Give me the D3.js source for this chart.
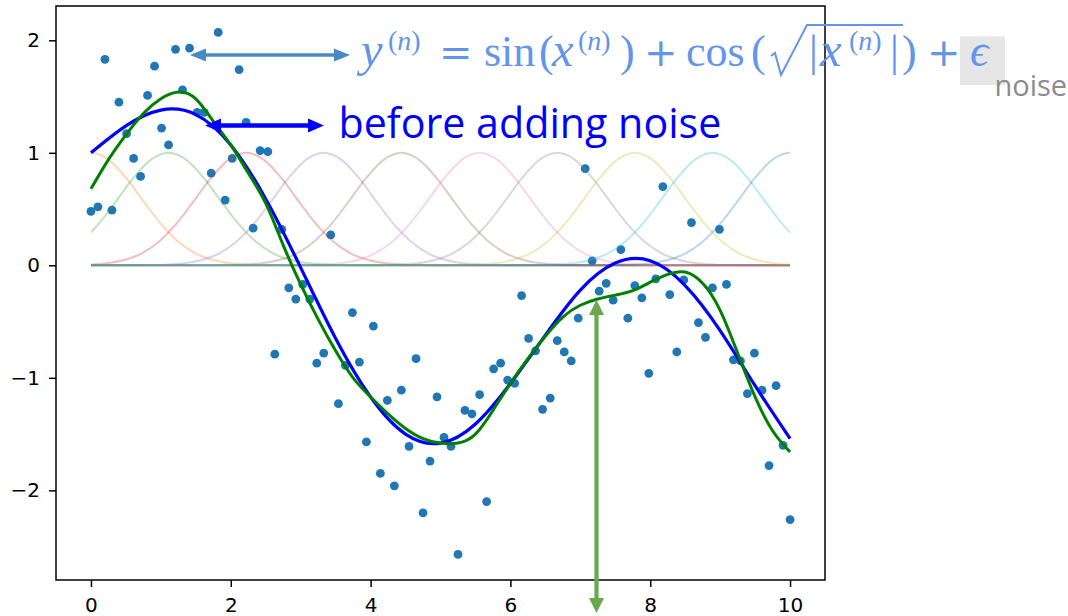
<!DOCTYPE html>
<html>
<head>
<meta charset="utf-8">
<script src="https://cdn.jsdelivr.net/npm/d3@7"></script>
<style>
  body { margin: 0; background: #fff; }
  .axis text { font-family: "DejaVu Sans", sans-serif; font-size: 20px; fill: #000; }
  .axis line { stroke: #000; stroke-width: 1.5; }
  .axis .domain { display: none; }
</style>
</head>
<body>
<script>
// noisy samples
var sampleX = [0.00,0.10,0.20,0.30,0.40,0.51,0.61,0.71,0.81,0.91,
  1.01,1.11,1.21,1.31,1.41,1.52,1.62,1.72,1.82,1.92,
  2.02,2.12,2.22,2.32,2.42,2.53,2.63,2.73,2.83,2.93,
  3.03,3.13,3.23,3.33,3.43,3.54,3.64,3.74,3.84,3.94,
  4.04,4.14,4.24,4.34,4.44,4.55,4.65,4.75,4.85,4.95,
  5.05,5.15,5.25,5.35,5.45,5.56,5.66,5.76,5.86,5.96,
  6.06,6.16,6.26,6.36,6.46,6.57,6.67,6.77,6.87,6.97,
  7.07,7.17,7.27,7.37,7.47,7.58,7.68,7.78,7.88,7.98,
  8.08,8.18,8.28,8.38,8.48,8.59,8.69,8.79,8.89,8.99,
  9.09,9.19,9.29,9.39,9.49,9.60,9.70,9.80,9.90,10.00];
var sampleY = [0.48,0.52,1.83,0.49,1.45,1.17,0.95,0.79,1.51,1.77,
  1.22,1.07,1.92,1.56,1.93,1.36,1.36,0.82,2.07,0.58,
  0.95,1.74,1.27,0.33,1.02,1.01,-0.79,0.32,-0.20,-0.30,
  -0.17,-0.30,-0.87,-0.78,0.27,-1.23,-0.89,-0.42,-0.86,-1.57,
  -0.54,-1.85,-1.20,-1.96,-1.11,-1.61,-0.83,-2.20,-1.74,-1.17,
  -1.53,-1.61,-2.57,-1.29,-1.32,-1.15,-2.10,-0.92,-0.87,-1.02,
  -1.05,-0.27,-0.65,-0.76,-1.28,-1.18,-0.67,-0.77,-0.85,-0.47,
  0.86,0.04,-0.23,-0.16,-0.31,0.14,-0.47,-0.18,-0.29,-0.96,
  -0.12,0.70,-0.26,-0.77,-0.13,0.38,-0.51,-0.64,-0.20,0.32,
  -0.17,-0.84,-0.85,-1.14,-0.78,-1.11,-1.78,-1.07,-1.60,-2.26];

// curve before adding noise
var trueX = [0,0.5,1,1.5,2,2.5,3,3.5,4,4.5,5,5.5,6,6.5,7,7.5,8,8.5,9,9.5,10];
var trueY = [1.00,1.24,1.38,1.34,1.07,0.59,-0.02,-0.65,-1.17,-1.50,-1.58,-1.41,-1.05,-0.62,-0.22,0.02,0.04,-0.18,-0.58,-1.07,-1.54];

// fitted curve
var fitX = [0,0.25,0.5,0.75,1,1.25,1.5,1.75,2,2.25,2.5,2.75,3,3.25,3.5,3.75,4,4.25,4.5,4.75,
  5,5.25,5.5,5.75,6,6.25,6.5,6.75,7,7.25,7.5,7.75,8,8.25,8.5,8.75,9,9.25,9.5,9.75,10];
var fitY = [0.68,0.94,1.16,1.35,1.48,1.54,1.48,1.28,1.07,0.82,0.55,0.18,-0.17,-0.48,-0.76,-1.00,-1.17,-1.32,-1.45,-1.54,
  -1.58,-1.58,-1.50,-1.29,-1.05,-0.83,-0.63,-0.46,-0.355,-0.30,-0.265,-0.225,-0.15,-0.08,-0.06,-0.16,-0.40,-0.78,-1.17,-1.47,-1.66];

// basis bumps: centres and one bump profile
var bumpCenters = [0,1.11,2.22,3.33,4.44,5.56,6.67,7.78,8.89,10];
var bumpOffsets = [-11,-3,-2.75,-2.5,-2.25,-2,-1.75,-1.5,-1.25,-1,-0.75,-0.5,-0.25,0,
  0.25,0.5,0.75,1,1.25,1.5,1.75,2,2.25,2.5,2.75,3,11];
var bumpValues = [0,0,0.0005,0.002,0.006,0.018,0.047,0.105,0.21,0.368,0.57,0.779,0.939,1,
  0.939,0.779,0.57,0.368,0.21,0.105,0.047,0.018,0.006,0.002,0.0005,0,0];

var xTicks = [0,2,4,6,8,10];
var yTicks = [-2,-1,0,1,2];

var bumpColors = ["#ff7f0e","#2ca02c","#d62728","#9467bd","#8c564b","#e377c2","#7f7f7f","#bcbd22","#17becf","#1f77b4"];

var margin = {top: 6, right: 243, bottom: 36, left: 56},
    W = 1068, H = 616;

var svg = d3.select("body").append("svg")
    .attr("width", W)
    .attr("height", H);

var x = d3.scaleLinear().domain([-0.5, 10.5]).range([margin.left, W - margin.right]);
var y = d3.scaleLinear().domain([-2.797, 2.305]).range([H - margin.bottom, margin.top]);

svg.append("clipPath").attr("id", "xclip")
  .append("rect")
    .attr("x", x(0)).attr("y", 0)
    .attr("width", x(10) - x(0)).attr("height", H);

// scatter
svg.append("g")
  .selectAll("circle")
  .data(sampleX)
  .enter().append("circle")
    .attr("cx", function(d) { return x(d); })
    .attr("cy", function(d, i) { return y(sampleY[i]); })
    .attr("r", 4.4)
    .attr("fill", "#1f77b4");

// bumps
var bumpLine = d3.line()
    .curve(d3.curveMonotoneX)
    .x(function(d) { return x(d[0]); })
    .y(function(d) { return y(d[1]); });

svg.append("g")
    .attr("clip-path", "url(#xclip)")
  .selectAll("path")
  .data(bumpCenters)
  .enter().append("path")
    .attr("fill", "none")
    .attr("stroke", function(d, i) { return bumpColors[i]; })
    .attr("stroke-opacity", 0.3)
    .attr("stroke-width", 2)
    .attr("d", function(c) {
      return bumpLine(bumpOffsets.map(function(o, k) { return [c + o, bumpValues[k]]; }));
    });

var curve = d3.line()
    .curve(d3.curveNatural)
    .x(function(d) { return x(d[0]); })
    .y(function(d) { return y(d[1]); });

svg.append("path")
    .datum(d3.zip(trueX, trueY))
    .attr("fill", "none")
    .attr("stroke", "#0000ff")
    .attr("stroke-width", 3.2)
    .attr("d", curve);

svg.append("path")
    .datum(d3.zip(fitX, fitY))
    .attr("fill", "none")
    .attr("stroke", "#008000")
    .attr("stroke-width", 3)
    .attr("d", curve);

// frame
svg.append("rect")
    .attr("x", margin.left).attr("y", margin.top)
    .attr("width", W - margin.right - margin.left)
    .attr("height", H - margin.bottom - margin.top)
    .attr("fill", "none")
    .attr("stroke", "#000")
    .attr("stroke-width", 1.5);

svg.append("g")
    .attr("class", "axis")
    .attr("transform", "translate(0," + (H - margin.bottom) + ")")
    .call(d3.axisBottom(x).tickValues(xTicks).tickFormat(d3.format("d")).tickSize(7).tickPadding(11));

svg.append("g")
    .attr("class", "axis")
    .attr("transform", "translate(" + margin.left + ",0)")
    .call(d3.axisLeft(y).tickValues(yTicks).tickFormat(d3.format("d")).tickSize(7).tickPadding(9));

// arrows
function arrow(x1, y1, x2, y2, color, width, headLen, headW) {
  var dx = x2 - x1, dy = y2 - y1, len = Math.sqrt(dx * dx + dy * dy);
  var ux = dx / len, uy = dy / len;
  svg.append("line")
      .attr("x1", x1 + ux * headLen * 0.8).attr("y1", y1 + uy * headLen * 0.8)
      .attr("x2", x2 - ux * headLen * 0.8).attr("y2", y2 - uy * headLen * 0.8)
      .attr("stroke", color).attr("stroke-width", width);
  [[x1, y1, -1], [x2, y2, 1]].forEach(function(p) {
    var bx = p[0] - p[2] * ux * headLen, by = p[1] - p[2] * uy * headLen;
    svg.append("path")
        .attr("d", "M" + p[0] + "," + p[1] +
          "L" + (bx - uy * headW / 2) + "," + (by + ux * headW / 2) +
          "L" + (bx + uy * headW / 2) + "," + (by - ux * headW / 2) + "Z")
        .attr("fill", color);
  });
}

arrow(190, 55, 350, 55, "#4a89c8", 3.5, 16, 13);
arrow(205, 125.5, 324, 125.5, "#0000ff", 4.5, 16, 14);
arrow(596.5, 300, 596.5, 613, "#6aa84f", 4.2, 15, 15);

// formula
var mathColor = "#6495ed";
function mathText(px, py, size, parts, family) {
  var t = svg.append("text")
      .attr("x", px).attr("y", py)
      .attr("font-family", family || "'Liberation Serif', 'DejaVu Serif', serif")
      .attr("font-size", size)
      .attr("fill", mathColor);
  parts.forEach(function(p) {
    t.append("tspan").text(p[0]).attr("font-style", p[1] ? "italic" : "normal");
  });
}
var opFont = "'DejaVu Serif', serif";

mathText(361, 66, 49, [["y", 1]]);
mathText(388, 50, 28, [["(", 0], ["n", 1], [")", 0]]);
mathText(439, 66, 40, [["=", 0]], opFont);
mathText(484, 66, 44, [["sin", 0]]);
mathText(539, 66, 44, [["(", 0]]);
mathText(552, 66, 49, [["x", 1]]);
mathText(578, 50, 28, [["(", 0], ["n", 1], [")", 0]]);
mathText(620, 66, 44, [[")", 0]]);
mathText(644, 66, 40, [["+", 0]], opFont);
mathText(686, 66, 44, [["cos", 0]]);
mathText(751, 66, 44, [["(", 0]]);
mathText(809, 66, 44, [["|", 0]]);
mathText(820, 66, 49, [["x", 1]]);
mathText(849, 50, 28, [["(", 0], ["n", 1], [")", 0]]);
mathText(890, 66, 44, [["|", 0]]);
mathText(902, 66, 44, [[")", 0]]);

svg.append("path")
    .attr("d", "M771,56 L775,53 L781,75 L807,25 L903,25")
    .attr("fill", "none")
    .attr("stroke", mathColor)
    .attr("stroke-width", 2)
    .attr("stroke-linejoin", "miter");

svg.append("rect")
    .attr("x", 960).attr("y", 36.5)
    .attr("width", 45).attr("height", 48.5)
    .attr("fill", "#e6e6e6");

mathText(927, 66, 40, [["+", 0]], opFont);
mathText(970, 66, 46, [["\u03f5", 1]]);

svg.append("text")
    .attr("x", 994.5).attr("y", 96)
    .attr("font-family", "'Open Sans', sans-serif")
    .attr("font-size", 29)
    .attr("fill", "#8c8c8c")
    .text("noise");

svg.append("text")
    .attr("x", 338.5).attr("y", 138)
    .attr("font-family", "'Open Sans', sans-serif")
    .attr("font-size", 41.2)
    .attr("fill", "#0000ff")
    .text("before adding noise");
</script>
</body>
</html>
